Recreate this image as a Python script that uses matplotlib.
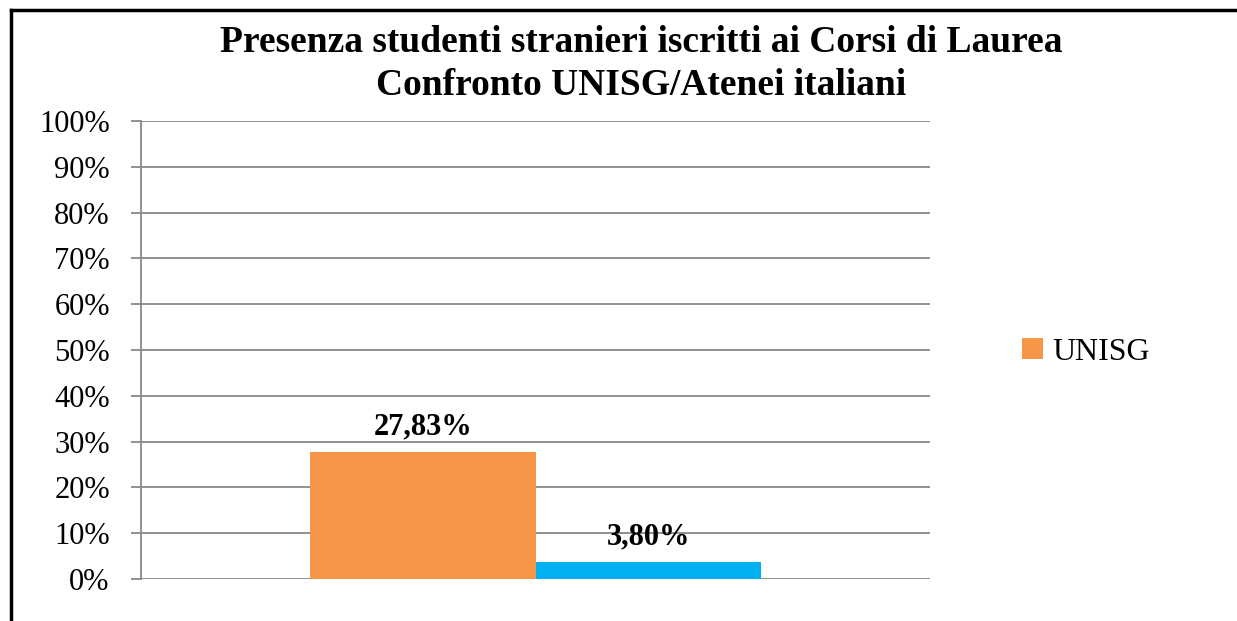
import matplotlib
matplotlib.use("Agg")
import matplotlib.pyplot as plt
from matplotlib.lines import Line2D
from matplotlib.patches import Patch

categories = ["UNISG", "Atenei italiani"]
values = [27.83, 3.80]
labels = ["27,83%", "3,80%"]
colors = ["#F79646", "#00B0F0"]
yticks = [0, 10, 20, 30, 40, 50, 60, 70, 80, 90, 100]
title = "Presenza studenti stranieri iscritti ai Corsi di Laurea\nConfronto UNISG/Atenei italiani"

W, H = 1237, 621
fig = plt.figure(figsize=(W / 100, H / 100), dpi=100)
fig.patch.set_facecolor("white")

serif = ["Liberation Serif", "DejaVu Serif"]

ax = fig.add_axes([141 / W, 1 - 579 / H, (930 - 141) / W, (579 - 121) / H])
w = 0.286
xs = [-w / 2, w / 2]
for x, v, c, lab in zip(xs, values, colors, labels):
    ax.bar(x, v, width=w, color=c, zorder=3)
    ax.text(x, v + 2.3, lab, ha="center", va="bottom", fontsize=22,
            fontweight="bold", family=serif, zorder=4)

ax.set_xlim(-0.5, 0.5)
ax.set_ylim(0, 100)
ax.set_yticks(yticks)
ax.set_yticklabels([f"{t}%" for t in yticks], family=serif, fontsize=22)
ax.set_xticks([])
ax.grid(axis="y", color="#888888", linewidth=1.3, zorder=0)
for s in ["top", "right", "bottom"]:
    ax.spines[s].set_visible(False)
ax.spines["left"].set_color("#888888")
ax.spines["left"].set_linewidth(1.3)
ax.tick_params(axis="y", length=7.5, color="#888888", width=1.3, pad=15)

fig.text(641 / W, 1 - 64 / H, title, ha="center", va="center", fontsize=27,
         fontweight="bold", family=serif, linespacing=1.3)

handles = [Patch(facecolor=colors[0], label=categories[0])]
fig.legend(handles=handles, loc="center left", bbox_to_anchor=(993 / W, 1 - 352 / H),
           frameon=False, prop={"family": serif, "size": 23},
           handlelength=0.65, handleheight=0.65, handletextpad=0.3)

fig.add_artist(Line2D([11 / W, 11 / W], [0, 1 - 10 / H], color="black", linewidth=2.5,
                      transform=fig.transFigure))
fig.add_artist(Line2D([11 / W, 1], [1 - 10 / H, 1 - 10 / H], color="black", linewidth=2.5,
                      transform=fig.transFigure))

fig.savefig("out.png", dpi=100, facecolor="white")
